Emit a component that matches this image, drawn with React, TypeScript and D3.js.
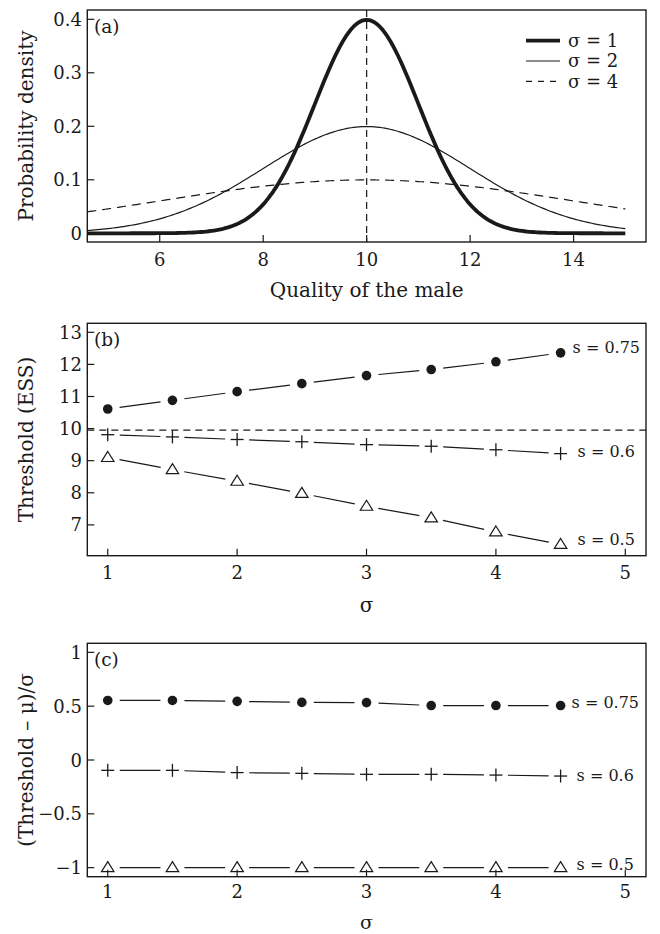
import React from "react";
import * as d3 from "d3";

// ---------- Data ----------
const mu = 10;
const sigmasA = [1, 2, 4];
const legendLabels = ["σ = 1", "σ = 2", "σ = 4"];
const xTicksA = [6, 8, 10, 12, 14];
const yTicksA = [0, 0.1, 0.2, 0.3, 0.4];
const yTickLabelsA = ["0", "0.1", "0.2", "0.3", "0.4"];

const sigmaSteps = [1, 1.5, 2, 2.5, 3, 3.5, 4, 4.5];
const seriesNames = ["s = 0.75", "s = 0.6", "s = 0.5"];
const thresholdS075 = [10.61, 10.88, 11.15, 11.4, 11.65, 11.84, 12.08, 12.36];
const thresholdS06 = [9.81, 9.74, 9.66, 9.59, 9.5, 9.45, 9.34, 9.22];
const thresholdS05 = [9.1, 8.72, 8.36, 7.98, 7.58, 7.22, 6.78, 6.39];
const thresholdRef = 9.95;
const xTicksB = [1, 2, 3, 4, 5];
const yTicksB = [7, 8, 9, 10, 11, 12, 13];

const normS075 = [0.553, 0.553, 0.545, 0.535, 0.533, 0.506, 0.506, 0.506];
const normS06 = [-0.096, -0.096, -0.117, -0.124, -0.133, -0.133, -0.14, -0.149];
const normS05 = [-1.0, -1.0, -1.0, -1.0, -1.0, -1.0, -1.0, -1.0];
const yTicksC = [-1, -0.5, 0, 0.5, 1];
const yTickLabelsC = ["\u22121", "\u22120.5", "0", "0.5", "1"];

// ---------- Layout ----------
const W = 660;
const H = 934;
const L = 87.3;
const R = 646;
const FONT = "'DejaVu Serif', 'Liberation Serif', serif";
const FS_TICK = 18;
const FS_TITLE = 20;
const INK = "#1a1a1a";

const panels = {
  a: { top: 10, bottom: 242, tickOff: 23.5, label: "(a)" },
  b: { top: 323.3, bottom: 555.7, tickOff: 23.3, label: "(b)" },
  c: { top: 643.3, bottom: 876.7, tickOff: 21.5, label: "(c)" },
};

const normalPdf = (x: number, m: number, s: number) =>
  Math.exp(-((x - m) * (x - m)) / (2 * s * s)) / (s * Math.sqrt(2 * Math.PI));

function Frame({ top, bottom }: any) {
  return (
    <rect x={L} y={top} width={R - L} height={bottom - top} fill="none" stroke={INK} strokeWidth={1.4} />
  );
}

function PanelLabel({ top, label }: any) {
  return (
    <text x={94} y={top + 23} fontFamily={FONT} fontSize={18.5} fill={INK}>
      {label}
    </text>
  );
}

function XAxis({ scale, ticks, bottom, tickOff }: any) {
  return (
    <g>
      {ticks.map((t: number, i: number) => (
        <g key={i}>
          <line x1={scale(t)} x2={scale(t)} y1={bottom} y2={bottom - 7} stroke={INK} strokeWidth={1.2} />
          <text x={scale(t)} y={bottom + tickOff} textAnchor="middle" fontFamily={FONT} fontSize={FS_TICK} fill={INK}>
            {String(t)}
          </text>
        </g>
      ))}
    </g>
  );
}

function YAxis({ scale, ticks, labels }: any) {
  return (
    <g>
      {ticks.map((t: number, i: number) => (
        <g key={i}>
          <line x1={L} x2={L + 7} y1={scale(t)} y2={scale(t)} stroke={INK} strokeWidth={1.2} />
          <text x={82} y={scale(t) + 6.5} textAnchor="end" fontFamily={FONT} fontSize={FS_TICK} fill={INK}>
            {labels ? labels[i] : String(t)}
          </text>
        </g>
      ))}
    </g>
  );
}

function YTitle({ text, top, bottom }: any) {
  const cy = (top + bottom) / 2;
  return (
    <text
      transform={`translate(33,${cy}) rotate(-90)`}
      textAnchor="middle"
      fontFamily={FONT}
      fontSize={FS_TITLE}
      fill={INK}
    >
      {text}
    </text>
  );
}

function Marker({ kind, x, y }: any) {
  if (kind === "circle") return <circle cx={x} cy={y} r={4.8} fill={INK} />;
  if (kind === "plus")
    return (
      <g stroke={INK} strokeWidth={1.3}>
        <line x1={x - 6.5} x2={x + 6.5} y1={y} y2={y} />
        <line x1={x} x2={x} y1={y - 6.5} y2={y + 6.5} />
      </g>
    );
  const h = 10;
  const w = 12.5;
  return (
    <path
      d={`M${x},${y - h * 0.6} L${x + w / 2},${y + h * 0.4} L${x - w / 2},${y + h * 0.4} Z`}
      fill="white"
      stroke={INK}
      strokeWidth={1.2}
    />
  );
}

function Series({ xs, ys, xScale, yScale, kind }: any) {
  const pts = xs.map((x: number, i: number) => [xScale(x), yScale(ys[i])]);
  const gap = 12;
  const segs = [];
  for (let i = 0; i < pts.length - 1; i++) {
    const [x1, y1] = pts[i];
    const [x2, y2] = pts[i + 1];
    const dx = x2 - x1;
    const dy = y2 - y1;
    const len = Math.hypot(dx, dy);
    const ux = dx / len;
    const uy = dy / len;
    segs.push(
      <line
        key={i}
        x1={x1 + ux * gap}
        y1={y1 + uy * gap}
        x2={x2 - ux * gap}
        y2={y2 - uy * gap}
        stroke={INK}
        strokeWidth={1.2}
      />
    );
  }
  return (
    <g>
      {segs}
      {pts.map((p: number[], i: number) => (
        <Marker key={i} kind={kind} x={p[0]} y={p[1]} />
      ))}
    </g>
  );
}

function SeriesLabel({ text, x, y }: any) {
  return (
    <text x={x} y={y} fontFamily={FONT} fontSize={16} fill={INK}>
      {text}
    </text>
  );
}

export default function App() {
  // Panel (a)
  const xa = d3.scaleLinear().domain([4.6, 15.4]).range([L, R]);
  const ya = d3.scaleLinear().domain([-0.0163, 0.4174]).range([panels.a.bottom, panels.a.top]);
  const xsA = d3.range(4.6, 15.0001, 0.05);
  const lineA = d3
    .line<[number, number]>()
    .x((d) => xa(d[0]))
    .y((d) => ya(d[1]));
  const curveStyles = [
    { w: 3.8, dash: undefined },
    { w: 1.2, dash: undefined },
    { w: 1.2, dash: "9,6" },
  ];

  // Panels (b), (c)
  const xb = d3.scaleLinear().domain([0.842, 5.16]).range([L, R]);
  const yb = d3.scaleLinear().domain([6.04, 13.28]).range([panels.b.bottom, panels.b.top]);
  const yc = d3.scaleLinear().domain([-1.084, 1.084]).range([panels.c.bottom, panels.c.top]);

  const bSeries = [
    { ys: thresholdS075, kind: "circle", dy: -5 },
    { ys: thresholdS06, kind: "plus", dy: -2.3 },
    { ys: thresholdS05, kind: "tri", dy: -5 },
  ];
  const cSeries = [
    { ys: normS075, kind: "circle", dy: -2.7 },
    { ys: normS06, kind: "plus", dy: -1 },
    { ys: normS05, kind: "tri", dy: -3.3 },
  ];
  const labelDx = [12, 17, 17];
  const last = sigmaSteps.length - 1;

  return (
    <svg
      width={W}
      height={H}
      viewBox={`0 0 ${W} ${H}`}
      style={{ position: "absolute", left: 0, top: 0, background: "white" }}
    >
      <rect x={0} y={0} width={W} height={H} fill="white" />

      {/* ---------- Panel (a) ---------- */}
      <line
        x1={xa(mu)}
        x2={xa(mu)}
        y1={panels.a.top}
        y2={panels.a.bottom}
        stroke={INK}
        strokeWidth={1.2}
        strokeDasharray="7,5"
      />
      {sigmasA.map((s, i) => (
        <path
          key={i}
          d={lineA(xsA.map((x) => [x, normalPdf(x, mu, s)] as [number, number])) || ""}
          fill="none"
          stroke={INK}
          strokeWidth={curveStyles[i].w}
          strokeDasharray={curveStyles[i].dash}
          strokeLinejoin="round"
        />
      ))}
      <Frame {...panels.a} />
      <XAxis scale={xa} ticks={xTicksA} {...panels.a} />
      <YAxis scale={ya} ticks={yTicksA} labels={yTickLabelsA} />
      <YTitle text="Probability density" {...panels.a} />
      <text x={xa(mu)} y={297} textAnchor="middle" fontFamily={FONT} fontSize={FS_TITLE} fill={INK}>
        Quality of the male
      </text>
      <PanelLabel {...panels.a} />
      {legendLabels.map((lab, i) => {
        const y = 40.7 + i * 20.3;
        return (
          <g key={i}>
            <line
              x1={526}
              x2={560}
              y1={y}
              y2={y}
              stroke={INK}
              strokeWidth={curveStyles[i].w}
              strokeDasharray={i === 2 ? "6,6" : undefined}
            />
            <text x={568} y={y + 6.3} fontFamily={FONT} fontSize={18} fill={INK}>
              {lab}
            </text>
          </g>
        );
      })}

      {/* ---------- Panel (b) ---------- */}
      <line
        x1={L}
        x2={R}
        y1={yb(thresholdRef)}
        y2={yb(thresholdRef)}
        stroke={INK}
        strokeWidth={1.2}
        strokeDasharray="7,5"
      />
      {bSeries.map((s, i) => (
        <g key={i}>
          <Series xs={sigmaSteps} ys={s.ys} xScale={xb} yScale={yb} kind={s.kind} />
          <SeriesLabel
            text={seriesNames[i]}
            x={xb(sigmaSteps[last]) + labelDx[i]}
            y={yb(s.ys[last]) + s.dy + 5.5}
          />
        </g>
      ))}
      <Frame {...panels.b} />
      <XAxis scale={xb} ticks={xTicksB} {...panels.b} />
      <YAxis scale={yb} ticks={yTicksB} />
      <YTitle text="Threshold (ESS)" {...panels.b} />
      <text x={xb(3)} y={611.5} textAnchor="middle" fontFamily={FONT} fontSize={FS_TITLE} fill={INK}>
        σ
      </text>
      <PanelLabel {...panels.b} />

      {/* ---------- Panel (c) ---------- */}
      {cSeries.map((s, i) => (
        <g key={i}>
          <Series xs={sigmaSteps} ys={s.ys} xScale={xb} yScale={yc} kind={s.kind} />
          <SeriesLabel
            text={seriesNames[i]}
            x={xb(sigmaSteps[last]) + labelDx[i] - 1}
            y={yc(s.ys[last]) + s.dy + 5.5}
          />
        </g>
      ))}
      <Frame {...panels.c} />
      <XAxis scale={xb} ticks={xTicksB} {...panels.c} />
      <YAxis scale={yc} ticks={yTicksC} labels={yTickLabelsC} />
      <YTitle text="(Threshold – μ)/σ" {...panels.c} />
      <text x={xb(3)} y={928.5} textAnchor="middle" fontFamily={FONT} fontSize={19} fill={INK}>
        σ
      </text>
      <PanelLabel {...panels.c} />
    </svg>
  );
}
